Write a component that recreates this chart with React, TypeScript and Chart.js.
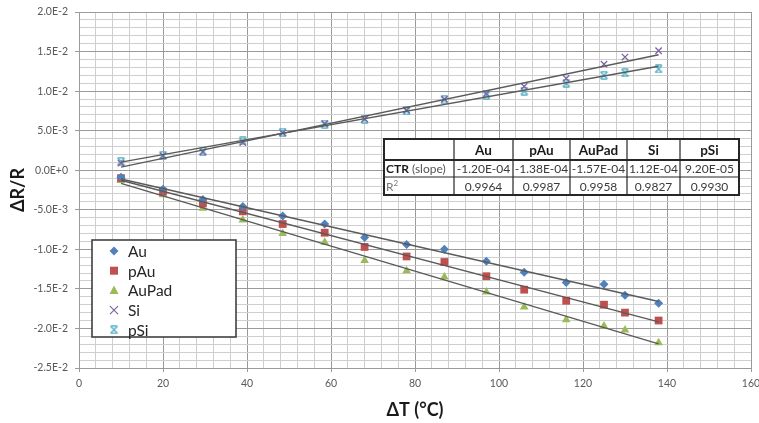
import React, { useEffect, useRef } from 'react';
import { Chart, registerables } from 'chart.js';

Chart.register(...registerables);

// ---- data ----
const temps = [10, 20, 29.5, 39, 48.5, 58.5, 68, 78, 87, 97, 106, 116, 125, 130, 138];
const au = [-0.0009, -0.0024, -0.0037, -0.0046, -0.0058, -0.0068, -0.0085, -0.0094, -0.0100, -0.0115, -0.0129, -0.0142, -0.0144, -0.0158, -0.0168];
const pau = [-0.0010, -0.0027, -0.0042, -0.0052, -0.0068, -0.0079, -0.0097, -0.0109, -0.0116, -0.0134, -0.0151, -0.0165, -0.0170, -0.0180, -0.0190];
const aupad = [-0.0013, -0.0031, -0.0048, -0.0063, -0.0080, -0.0091, -0.0114, -0.0127, -0.0135, -0.0154, -0.0173, -0.0189, -0.0197, -0.0202, -0.0218];
const si = [0.0009, 0.0018, 0.0023, 0.0035, 0.0047, 0.0059, 0.0065, 0.0076, 0.0090, 0.0097, 0.0106, 0.0116, 0.0134, 0.0143, 0.0151];
const psi = [0.0011, 0.0019, 0.0024, 0.0037, 0.0048, 0.0058, 0.0064, 0.0075, 0.0089, 0.0095, 0.0100, 0.0110, 0.0120, 0.0123, 0.0128];

const seriesNames = ['Au', 'pAu', 'AuPad', 'Si', 'pSi'];
const seriesValues = [au, pau, aupad, si, psi];
const seriesColors = ['#4F81BD', '#C0504D', '#9BBB59', '#8064A2', '#4BACC6'];

const tableHeaders = ['Au', 'pAu', 'AuPad', 'Si', 'pSi'];
const tableSlopes = ['-1.20E-04', '-1.38E-04', '-1.57E-04', '1.12E-04', '9.20E-05'];
const tableR2 = ['0.9964', '0.9987', '0.9958', '0.9827', '0.9930'];

const xTitle = 'ΔT (°C)';
const yTitle = 'ΔR/R';

const FONT = 'Lato, "Open Sans", sans-serif';

function fit(xs: number[], ys: number[]) {
  const n = xs.length;
  let sx = 0, sy = 0, sxx = 0, sxy = 0;
  for (let i = 0; i < n; i++) { sx += xs[i]; sy += ys[i]; sxx += xs[i] * xs[i]; sxy += xs[i] * ys[i]; }
  const m = (n * sxy - sx * sy) / (n * sxx - sx * sx);
  const b = (sy - m * sx) / n;
  return { m, b };
}

function makePSiMarker(color: string) {
  const c = document.createElement('canvas');
  c.width = 9; c.height = 9;
  const g = c.getContext('2d')!;
  g.strokeStyle = color; g.lineWidth = 1.3;
  g.beginPath();
  g.moveTo(1, 1); g.lineTo(8, 8);
  g.moveTo(8, 1); g.lineTo(1, 8);
  g.moveTo(1.5, 0.8); g.lineTo(7.5, 0.8);
  g.moveTo(1.5, 8.2); g.lineTo(7.5, 8.2);
  g.stroke();
  return c;
}

function drawMarker(ctx: CanvasRenderingContext2D, i: number, x: number, y: number, psiImg: HTMLCanvasElement) {
  const col = seriesColors[i];
  ctx.save();
  ctx.fillStyle = col; ctx.strokeStyle = col;
  ctx.beginPath();
  if (i === 0) {
    const r = 4.5;
    ctx.moveTo(x - r, y); ctx.lineTo(x, y - r); ctx.lineTo(x + r, y); ctx.lineTo(x, y + r); ctx.closePath(); ctx.fill();
  } else if (i === 1) {
    ctx.fillRect(x - 4, y - 4, 8, 8);
  } else if (i === 2) {
    ctx.moveTo(x, y - 5); ctx.lineTo(x + 4.5, y + 3.5); ctx.lineTo(x - 4.5, y + 3.5); ctx.closePath(); ctx.fill();
  } else if (i === 3) {
    ctx.lineWidth = 1.2;
    ctx.moveTo(x - 4, y - 4); ctx.lineTo(x + 4, y + 4); ctx.moveTo(x + 4, y - 4); ctx.lineTo(x - 4, y + 4); ctx.stroke();
  } else {
    ctx.drawImage(psiImg, x - 4.5, y - 4.5);
  }
  ctx.restore();
}

export default function App() {
  const ref = useRef<HTMLCanvasElement>(null);

  useEffect(() => {
    if (!ref.current) return;
    const psiImg = makePSiMarker(seriesColors[4]);
    const pointStyles: any[] = ['rectRot', 'rect', 'triangle', 'crossRot', psiImg];
    const radii = [4.5, 5.5, 5, 4.5, 4.5];

    const scatterSets = seriesNames.map((name, i) => ({
      type: 'scatter' as const,
      label: name,
      data: temps.map((t, k) => ({ x: t, y: seriesValues[i][k] })),
      pointStyle: pointStyles[i],
      pointRadius: radii[i],
      pointBackgroundColor: seriesColors[i],
      pointBorderColor: seriesColors[i],
      pointBorderWidth: i >= 3 ? 1.3 : 0,
      showLine: false,
      order: 2,
    }));

    const trendSets = seriesValues.map((vals, i) => {
      const { m, b } = fit(temps, vals);
      const x0 = temps[0], x1 = temps[temps.length - 1];
      return {
        type: 'line' as const,
        label: 'trend ' + seriesNames[i],
        data: [{ x: x0, y: m * x0 + b }, { x: x1, y: m * x1 + b }],
        borderColor: '#5a5a5a',
        borderWidth: 1.4,
        pointRadius: 0,
        fill: false,
        showLine: true,
        order: 1,
      };
    });

    const overlay = {
      id: 'overlay',
      afterDraw(chart: any) {
        const ctx: CanvasRenderingContext2D = chart.ctx;
        const ca = chart.chartArea;
        ctx.save();
        // axis titles
        ctx.fillStyle = '#1a1a1a';
        ctx.font = `bold 18px ${FONT}`;
        ctx.textAlign = 'center';
        ctx.textBaseline = 'middle';
        ctx.fillText(xTitle, (ca.left + ca.right) / 2, 410);
        ctx.save();
        ctx.translate(18, 190);
        ctx.rotate(-Math.PI / 2);
        ctx.fillText(yTitle, 0, 0);
        ctx.restore();

        // legend
        const lx = 92, ly = 240, lw = 144, lh = 97;
        ctx.fillStyle = '#ffffff';
        ctx.fillRect(lx, ly, lw, lh);
        ctx.strokeStyle = '#404040';
        ctx.lineWidth = 1.6;
        ctx.strokeRect(lx, ly, lw, lh);
        ctx.font = `15.5px ${FONT}`;
        ctx.textAlign = 'left';
        ctx.textBaseline = 'middle';
        seriesNames.forEach((name, i) => {
          const yy = 251 + i * 19.7;
          drawMarker(ctx, i, 114, yy, psiImg);
          ctx.fillStyle = '#262626';
          ctx.fillText(name, 128, yy + 1);
        });

        // table
        const cols = [384, 454, 513, 570, 627, 680, 739];
        const rows = [139, 160, 177, 195];
        ctx.fillStyle = '#ffffff';
        ctx.fillRect(cols[0], rows[0], cols[6] - cols[0], rows[3] - rows[0]);
        ctx.strokeStyle = '#262626';
        ctx.lineWidth = 1.2;
        ctx.beginPath();
        for (let c = 1; c < 6; c++) { ctx.moveTo(cols[c], rows[0]); ctx.lineTo(cols[c], rows[3]); }
        ctx.moveTo(cols[0], rows[2]); ctx.lineTo(cols[6], rows[2]);
        ctx.stroke();
        ctx.lineWidth = 2;
        ctx.beginPath();
        ctx.moveTo(cols[0], rows[1]); ctx.lineTo(cols[6], rows[1]);
        ctx.stroke();
        ctx.strokeRect(cols[0], rows[0], cols[6] - cols[0], rows[3] - rows[0]);

        ctx.textAlign = 'center';
        ctx.textBaseline = 'middle';
        ctx.fillStyle = '#1a1a1a';
        ctx.font = `bold 13.5px ${FONT}`;
        tableHeaders.forEach((h, i) => ctx.fillText(h, (cols[i + 1] + cols[i + 2]) / 2, (rows[0] + rows[1]) / 2 + 1));
        ctx.font = `12px ${FONT}`;
        ctx.fillStyle = '#3a3a3a';
        tableSlopes.forEach((s, i) => ctx.fillText(s, (cols[i + 1] + cols[i + 2]) / 2, (rows[1] + rows[2]) / 2 + 1));
        tableR2.forEach((s, i) => ctx.fillText(s, (cols[i + 1] + cols[i + 2]) / 2, (rows[2] + rows[3]) / 2 + 1));
        // row labels
        ctx.textAlign = 'left';
        ctx.font = `bold 12px ${FONT}`;
        ctx.fillStyle = '#1a1a1a';
        const cy = (rows[1] + rows[2]) / 2 + 1;
        ctx.fillText('CTR', cols[0] + 2, cy);
        const w = ctx.measureText('CTR').width;
        ctx.font = `12px ${FONT}`;
        ctx.fillStyle = '#555';
        ctx.fillText(' (slope)', cols[0] + 2 + w, cy);
        ctx.fillStyle = '#777';
        const ry = (rows[2] + rows[3]) / 2 + 1;
        ctx.fillText('R', cols[0] + 2, ry);
        const rw = ctx.measureText('R').width;
        ctx.font = `8px ${FONT}`;
        ctx.fillText('2', cols[0] + 2 + rw, ry - 4);
        ctx.restore();
      },
    };

    const isMajorX = (v: number) => Math.round(v) % 20 === 0;
    const isMajorY = (v: number) => Math.round(v * 1000) % 5 === 0;

    const chart = new Chart(ref.current, {
      type: 'scatter',
      data: { datasets: [...scatterSets, ...trendSets] as any },
      options: {
        responsive: false,
        animation: false,
        devicePixelRatio: 1,
        layout: { padding: { left: 0, right: 8, top: 12, bottom: 0 } },
        plugins: { legend: { display: false }, tooltip: { enabled: false } },
        scales: {
          x: {
            type: 'linear',
            min: 0,
            max: 160,
            afterFit: (s: any) => { s.height = 55; s.paddingLeft = 0; s.paddingRight = 0; },
            ticks: {
              stepSize: 4,
              autoSkip: false,
              maxTicksLimit: 100,
              maxRotation: 0,
              padding: 5,
              color: '#595959',
              font: { family: FONT, size: 10.5 },
              callback: (v: any) => (isMajorX(Number(v)) ? String(Math.round(Number(v))) : ''),
            },
            grid: {
              color: (c: any) => (c.tick && isMajorX(c.tick.value) ? '#9a9a9a' : '#cfcfcf'),
              tickColor: (c: any) => (c.tick && isMajorX(c.tick.value) ? '#9a9a9a' : 'rgba(0,0,0,0)'),
              tickLength: 4,
              lineWidth: 1,
            },
            border: { color: '#9a9a9a', width: 1 },
          },
          y: {
            type: 'linear',
            min: -0.025,
            max: 0.02,
            afterFit: (s: any) => { s.width = 79; s.paddingTop = 0; s.paddingBottom = 0; },
            ticks: {
              stepSize: 0.001,
              autoSkip: false,
              maxTicksLimit: 100,
              padding: 7,
              color: '#595959',
              font: { family: FONT, size: 10.5 },
              callback: (v: any) => {
                const n = Number(v);
                if (!isMajorY(n)) return '';
                return (Math.round(n * 1000) / 1000).toExponential(1).toUpperCase();
              },
            },
            grid: {
              color: (c: any) => (c.tick && isMajorY(c.tick.value) ? '#9a9a9a' : '#cfcfcf'),
              tickColor: (c: any) => (c.tick && isMajorY(c.tick.value) ? '#9a9a9a' : 'rgba(0,0,0,0)'),
              tickLength: 4,
              lineWidth: 1,
            },
            border: { color: '#9a9a9a', width: 1 },
          },
        },
      },
      plugins: [overlay],
    });

    return () => chart.destroy();
  }, []);

  return (
    <div style={{ position: 'fixed', left: 0, top: 0, width: 759, height: 423, background: '#fff' }}>
      <canvas ref={ref} width={759} height={423} style={{ display: 'block' }} />
    </div>
  );
}
